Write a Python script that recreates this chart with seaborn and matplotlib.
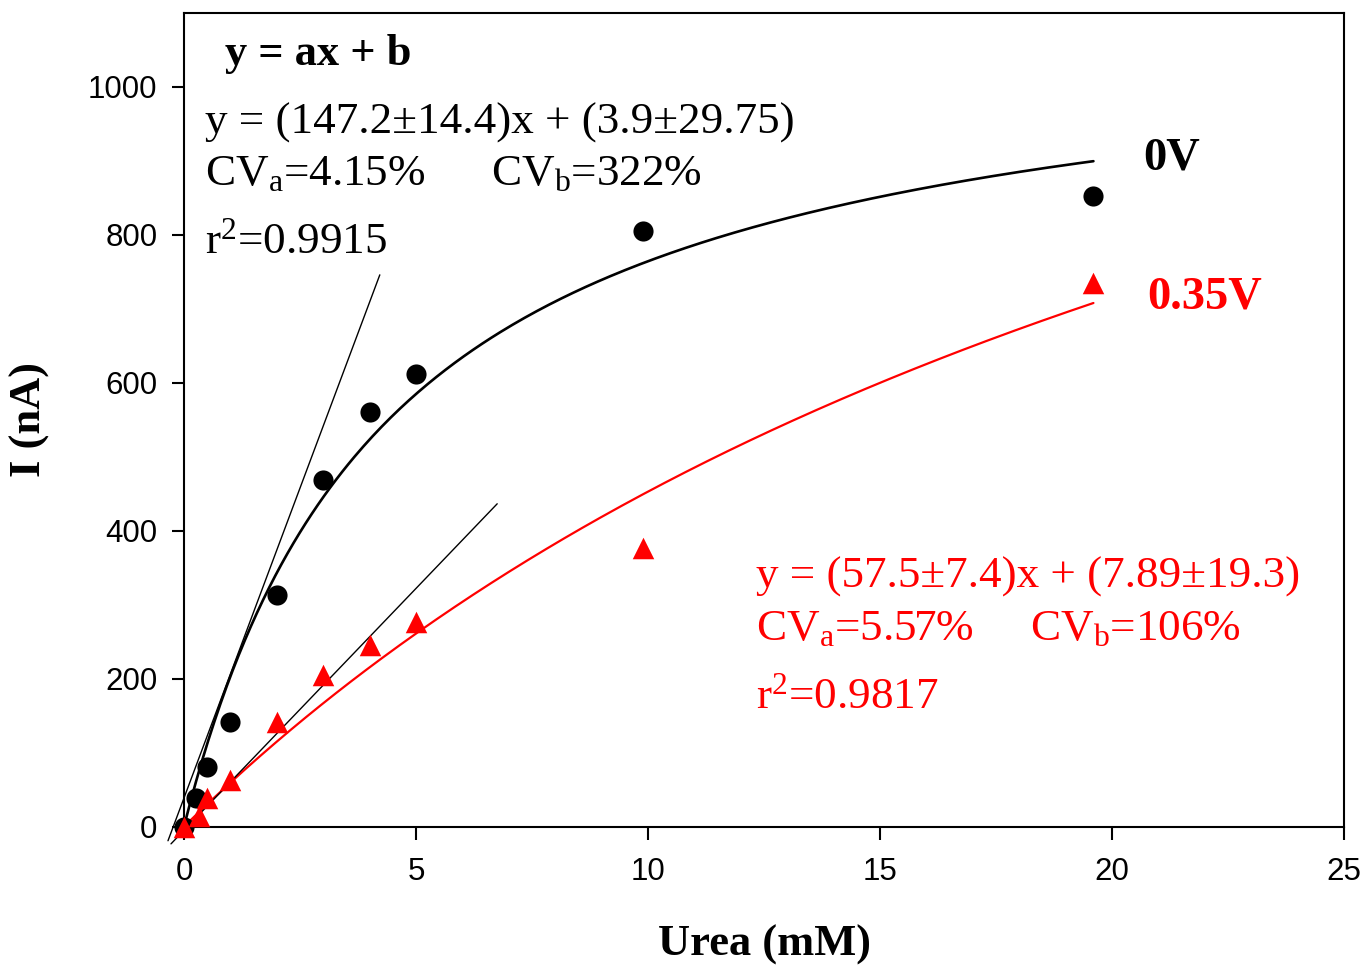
import numpy as np
import pandas as pd
import matplotlib
matplotlib.use("Agg")
import matplotlib.pyplot as plt
import seaborn as sns


# measured points (urea in mM, current in nA)
urea_0v = [0, 0.25, 0.5, 1, 2, 3, 4, 5, 9.9, 19.6]
current_0v = [0, 39, 80, 141, 313, 469, 561, 612, 805, 852]
urea_035v = [0, 0.33, 0.5, 1, 2, 3, 4, 5, 9.9, 19.6]
current_035v = [0, 15, 39, 63, 142, 205, 245, 277, 376, 735]

# Michaelis-Menten fits (Imax, Km)
mm_0v = (1103, 4.43)
mm_035v = (1712, 27.8)

# linear-range lines (slope, intercept, x start, x end)
lin_0v = (167.6, 38.7, -0.345, 4.22)
lin_035v = (65.4, -5.0, -0.28, 6.75)

x_ticks = [0, 5, 10, 15, 20, 25]
y_ticks = [0, 200, 400, 600, 800, 1000]

serif = "Liberation Serif"

sns.set_theme(style="ticks")
plt.rcParams['font.family'] = ['Liberation Sans', 'DejaVu Sans']
plt.rcParams['text.color'] = 'black'
plt.rcParams['axes.labelcolor'] = 'black'
plt.rcParams['mathtext.fontset'] = 'custom'
plt.rcParams['mathtext.rm'] = serif
plt.rcParams['mathtext.it'] = serif + ':italic'
plt.rcParams['mathtext.bf'] = serif + ':bold'
plt.rcParams['mathtext.default'] = 'rm'

fig = plt.figure(figsize=(13.67, 9.68), dpi=100)
ax = fig.add_axes([184 / 1367, 1 - 826.6 / 968, 1160 / 1367, 813.6 / 968])

# fitted curves
x_fit_0 = np.linspace(0, urea_0v[-1], 300)
x_fit_35 = np.linspace(0, urea_035v[-1], 300)
fit_df = pd.DataFrame({
    'urea': np.concatenate([x_fit_0, x_fit_35]),
    'current': np.concatenate([mm_0v[0] * x_fit_0 / (mm_0v[1] + x_fit_0),
                               mm_035v[0] * x_fit_35 / (mm_035v[1] + x_fit_35)]),
    'potential': ['0V'] * len(x_fit_0) + ['0.35V'] * len(x_fit_35),
})
sns.lineplot(data=fit_df[fit_df.potential == '0V'], x='urea', y='current',
             color='black', lw=1.9, ax=ax, legend=False)
sns.lineplot(data=fit_df[fit_df.potential == '0.35V'], x='urea', y='current',
             color='red', lw=1.6, ax=ax, legend=False)

# linear range lines
for slope, icpt, xa, xb in [lin_0v, lin_035v]:
    xs = np.array([xa, xb])
    ax.plot(xs, slope * xs + icpt, color='black', lw=1.0, clip_on=False)

# data points
pts = pd.DataFrame({'urea': urea_0v + urea_035v,
                    'current': current_0v + current_035v,
                    'potential': ['0V'] * len(urea_0v) + ['0.35V'] * len(urea_035v)})
sns.scatterplot(data=pts[pts.potential == '0V'], x='urea', y='current',
                color='black', marker='o', s=210, linewidth=0, ax=ax,
                clip_on=False, zorder=4, legend=False)
sns.scatterplot(data=pts[pts.potential == '0.35V'], x='urea', y='current',
                color='red', marker='^', s=240, linewidth=0, ax=ax,
                clip_on=False, zorder=4, legend=False)

ax.set_xlim(0, 25)
ax.set_ylim(0, 1100)
ax.set_xticks(x_ticks)
ax.set_yticks(y_ticks)
ax.tick_params(axis='both', direction='out', length=9, width=1.5,
               labelsize=22.5, color='black', labelcolor='black')
ax.tick_params(axis='x', pad=13)
ax.tick_params(axis='y', pad=10)
for sp in ax.spines.values():
    sp.set_visible(True)
    sp.set_linewidth(1.5)
    sp.set_color('black')

ax.set_xlabel('Urea (mM)', fontsize=32, fontweight='bold', family=serif, va='center')
ax.xaxis.set_label_coords(0.5, -0.1455)
ax.set_ylabel('I (nA)', fontsize=32, fontweight='bold', family=serif, va='center')
ax.yaxis.set_label_coords(-0.1328, 0.5)

# annotations
ax.text(0.88, 1030, 'y = ax + b', fontsize=32, fontweight='bold', family=serif)
ax.text(0.45, 937, 'y = (147.2\u00b114.4)x + (3.9\u00b129.75)', fontsize=32.5, family=serif)
ax.text(0.45, 868, 'CV$_{a}$=4.15%', fontsize=32.5, family=serif)
ax.text(6.62, 868, 'CV$_{b}$=322%', fontsize=32.5, family=serif)
ax.text(0.45, 775, 'r$^{2}$=0.9915', fontsize=32.5, family=serif)

ax.text(12.33, 323, 'y = (57.5\u00b17.4)x + (7.89\u00b119.3)', fontsize=32.5, family=serif, color='red')
ax.text(12.33, 252, 'CV$_{a}$=5.57%', fontsize=32.5, family=serif, color='red')
ax.text(18.23, 252, 'CV$_{b}$=106%', fontsize=32.5, family=serif, color='red')
ax.text(12.33, 160, 'r$^{2}$=0.9817', fontsize=32.5, family=serif, color='red')

ax.text(20.67, 889, '0V', fontsize=33.5, fontweight='bold', family=serif)
ax.text(20.75, 701, '0.35V', fontsize=33.5, fontweight='bold', family=serif, color='red')

fig.savefig('out.png', dpi=100)
plt.close(fig)
